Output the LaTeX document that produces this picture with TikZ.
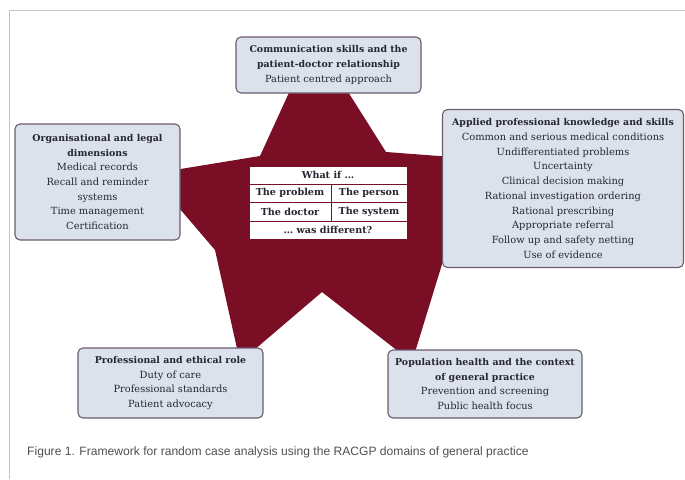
\documentclass[tikz,border=0pt]{standalone}
\usepackage{fontspec}
\setmainfont{DejaVu Serif}
\newfontfamily\capfont{Liberation Sans}
\definecolor{starred}{HTML}{7A0E25}
\definecolor{boxfill}{HTML}{DCE2EB}
\definecolor{boxline}{HTML}{6B5C72}
\definecolor{txt}{HTML}{262630}
\definecolor{framegray}{HTML}{C4C4C4}
\definecolor{capgray}{HTML}{4F4F4F}
\newcommand\hd[1]{{\fontsize{9.4}{14.7}\selectfont\bfseries #1}}
\tikzset{
  domainbox/.style={draw=boxline, line width=1.1pt, fill=boxfill, rounded corners=5pt,
    align=center, text=txt, inner sep=0pt,
    font=\fontsize{9.85}{14.7}\selectfont},
  cell/.style={draw=starred, line width=0.6pt, fill=white, inner sep=0pt, text=txt,
    font=\fontsize{9.6}{11}\selectfont\bfseries},
}
\begin{document}
\begin{tikzpicture}[x=1pt,y=-1pt]
\useasboundingbox (0,0) rectangle (685,479);
% frame
\draw[framegray, line width=1.2pt] (9.5,479) -- (9.5,10.5) -- (685,10.5);
% star
\fill[starred] (314,38) -- (386,152) -- (492,160) -- (447,248) -- (412,362)
  -- (322,292) -- (240,362) -- (215,250) -- (150,174) -- (260,156) -- cycle;
% table
\node[cell, minimum width=158, minimum height=18] (whatif) at (328,175) {What if \dots};
\node[cell, minimum width=82, minimum height=18.5] (problem) at (290,193.25) {The problem};
\node[cell, minimum width=76, minimum height=18.5] (person) at (369,193.25) {The person};
\node[cell, minimum width=82, minimum height=18.5] (doctor) at (290,211.75) {The doctor};
\node[cell, minimum width=76, minimum height=18.5] (system) at (369,211.75) {The system};
\node[cell, minimum width=158, minimum height=18] (different) at (328,230) {\dots\ was different?};
% domain boxes
\node[domainbox, minimum width=185, minimum height=56] (comm) at (328.5,65)
  {\hd{Communication skills and the}\\\hd{patient-doctor relationship}\\Patient centred approach};
\node[domainbox, minimum width=165, minimum height=116] (org) at (97.5,182)
  {\hd{Organisational and legal}\\\hd{dimensions}\\Medical records\\Recall and reminder\\systems\\Time management\\Certification};
\node[domainbox, minimum width=241, minimum height=158] (applied) at (563,188.5)
  {\hd{Applied professional knowledge and skills}\\Common and serious medical conditions\\Undifferentiated problems\\Uncertainty\\Clinical decision making\\Rational investigation ordering\\Rational prescribing\\Appropriate referral\\Follow up and safety netting\\Use of evidence};
\node[domainbox, minimum width=185, minimum height=70] (prof) at (170.5,383)
  {\hd{Professional and ethical role}\\Duty of care\\Professional standards\\Patient advocacy};
\node[domainbox, minimum width=194, minimum height=68] (pop) at (485,384)
  {\hd{Population health and the context}\\\hd{of general practice}\\Prevention and screening\\Public health focus};
% caption
\node[anchor=west, inner sep=0pt, text=capgray, font=\capfont\fontsize{12.1}{14}\selectfont] (caption) at (27,452)
  {Figure 1. Framework for random case analysis using the RACGP domains of general practice};
\end{tikzpicture}
\end{document}
